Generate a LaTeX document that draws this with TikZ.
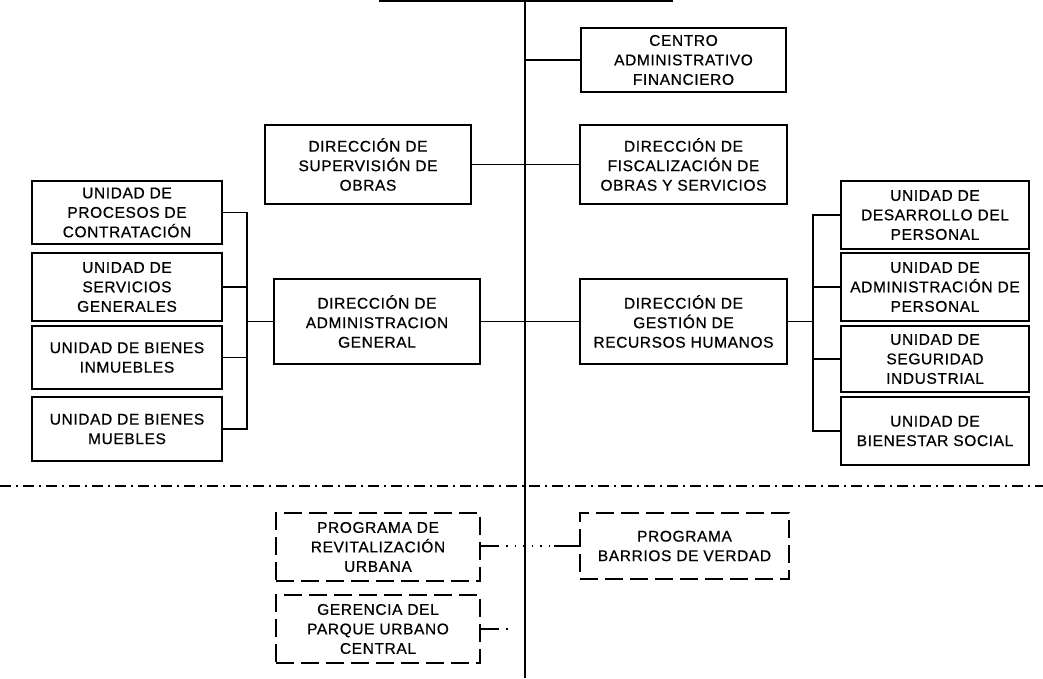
\documentclass[tikz,border=0pt]{standalone}
\usepackage{fontspec}
\setmainfont{Liberation Sans}[LetterSpace=4,FakeBold=0.6]
\begin{document}
\begin{tikzpicture}[x=1pt,y=-1pt,
  box/.style={draw=black,line width=1.4pt,rectangle,align=center,inner sep=1pt,
    font=\fontsize{15.5}{19.5}\selectfont},
  dbox/.style={box,dashed,dash pattern=on 18pt off 7pt},
  conn/.style={line width=1.5pt},
  dotconn/.style={line width=1.3pt,dash pattern=on 1.5pt off 7pt},
  sep/.style={line width=1.5pt,dash pattern=on 11pt off 5pt on 2pt off 5pt}]
\useasboundingbox (0,0) rectangle (1043,678);
\clip (0,0) rectangle (1043,678);
\fill[white] (0,0) rectangle (1043,678);

% top (cut off) box
\node[box,minimum width=292pt,minimum height=40pt] (top) at (526,-19) {};
\coordinate (tb) at (525,678);
\draw[conn] (top.south -| tb) -- (tb);

% main boxes
\node[box,minimum width=205pt,minimum height=64pt] (cent) at (683.5,60) {CENTRO\\ADMINISTRATIVO\\FINANCIERO};
\node[box,minimum width=206pt,minimum height=79pt] (sup) at (368,164.5) {DIRECCIÓN DE\\SUPERVISIÓN DE\\OBRAS};
\node[box,minimum width=207pt,minimum height=79pt] (fis) at (683.5,164.5) {DIRECCIÓN DE\\FISCALIZACIÓN DE\\OBRAS Y SERVICIOS};
\node[box,minimum width=206pt,minimum height=85pt] (adm) at (377,321.5) {DIRECCIÓN DE\\ADMINISTRACION\\GENERAL};
\node[box,minimum width=207pt,minimum height=85pt] (rrhh) at (683.5,321.5) {DIRECCIÓN DE\\GESTIÓN DE\\RECURSOS HUMANOS};

% left units
\node[box,minimum width=190pt,minimum height=63pt] (u1) at (127,212.5) {UNIDAD DE\\PROCESOS DE\\CONTRATACIÓN};
\node[box,minimum width=190pt,minimum height=68pt] (u2) at (127,287) {UNIDAD DE\\SERVICIOS\\GENERALES};
\node[box,minimum width=190pt,minimum height=63pt] (u3) at (127,357.5) {UNIDAD DE BIENES\\INMUEBLES};
\node[box,minimum width=190pt,minimum height=64pt] (u4) at (127,429) {UNIDAD DE BIENES\\MUEBLES};

% right units
\node[box,minimum width=188pt,minimum height=68pt] (r1) at (935,215) {UNIDAD DE\\DESARROLLO DEL\\PERSONAL};
\node[box,minimum width=188pt,minimum height=68pt] (r2) at (935,287) {UNIDAD DE\\ADMINISTRACIÓN DE\\PERSONAL};
\node[box,minimum width=188pt,minimum height=66pt] (r3) at (935,359) {UNIDAD DE\\SEGURIDAD\\INDUSTRIAL};
\node[box,minimum width=188pt,minimum height=68pt] (r4) at (935,431) {UNIDAD DE\\BIENESTAR SOCIAL};

% programs (dashed)
\node[dbox,minimum width=204pt,minimum height=68pt] (p1) at (378,547) {PROGRAMA DE\\REVITALIZACIÓN\\URBANA};
\node[dbox,minimum width=204pt,minimum height=68pt] (p2) at (378,629) {GERENCIA DEL\\PARQUE URBANO\\CENTRAL};
\node[dbox,minimum width=209pt,minimum height=66pt] (p3) at (684.5,546) {PROGRAMA\\BARRIOS DE VERDAD};

% trunk connections
\draw[conn] (cent.west) -- (cent.west -| tb);
\draw[conn] (sup.east) -- (fis.west);
\draw[conn] (adm.east) -- (rrhh.west);

% left bracket
\coordinate (lb) at (247,0);
\draw[conn] (u1.east) -- (u1.east -| lb) -- (u4.east -| lb) -- (u4.east);
\draw[conn] (u2.east) -- (u2.east -| lb);
\draw[conn] (u3.east) -- (u3.east -| lb);
\draw[conn] (adm.west) -- (adm.west -| lb);

% right bracket
\coordinate (rb) at (813,0);
\draw[conn] (r1.west) -- (r1.west -| rb) -- (r4.west -| rb) -- (r4.west);
\draw[conn] (r2.west) -- (r2.west -| rb);
\draw[conn] (r3.west) -- (r3.west -| rb);
\draw[conn] (rrhh.east) -- (rrhh.east -| rb);

% separator
\coordinate (sl) at (0,486);
\coordinate (sr) at (1043,486);
\draw[sep] (sl) -- (sr);

% program connectors
\coordinate (p1a) at ([xshift=17pt]p1.east |- p3.west);
\coordinate (p3a) at ([xshift=-25pt]p3.west);
\draw[conn] (p1.east |- p3.west) -- (p1a);
\draw[dotconn] (p1a) -- (p3a);
\draw[conn] (p3a) -- (p3.west);
\coordinate (p2a) at ([xshift=17pt]p2.east);
\coordinate (p2b) at ([xshift=32pt]p2.east);
\draw[conn] (p2.east) -- (p2a);
\draw[dotconn] (p2a) -- (p2b);
\end{tikzpicture}
\end{document}
